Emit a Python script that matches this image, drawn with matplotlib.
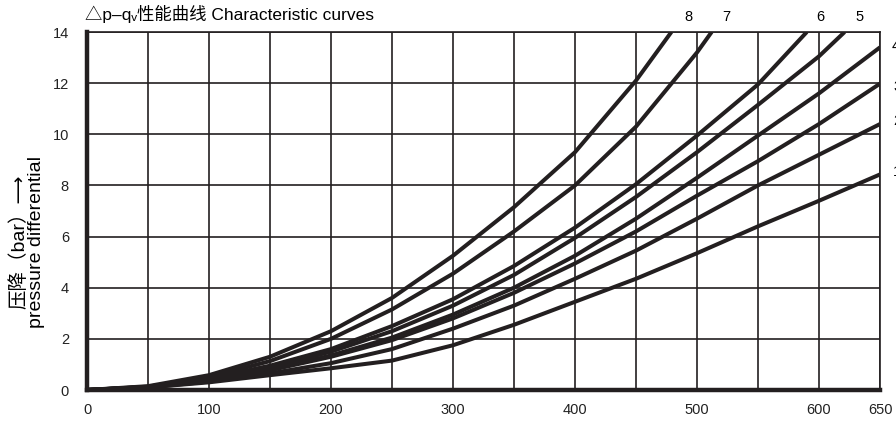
import numpy as np
import matplotlib
matplotlib.use('Agg')
from matplotlib import pyplot as plt

plt.rcParams['font.family'] = ['Liberation Sans', 'Noto Sans CJK SC', 'DejaVu Sans']

ink = '#231f20'

# flow (l/min) vs pressure drop (bar)
q_full = [0, 50, 100, 150, 200, 250, 300, 350, 400, 450, 500, 550, 600, 650]
dp_1 = [0, 0.1, 0.3, 0.58, 0.85, 1.15, 1.75, 2.55, 3.45, 4.35, 5.35, 6.4, 7.4, 8.43]
dp_2 = [0, 0.1, 0.33, 0.65, 1.05, 1.6, 2.4, 3.3, 4.35, 5.45, 6.7, 8.0, 9.2, 10.4]
dp_3 = [0, 0.11, 0.37, 0.77, 1.3, 1.95, 2.8, 3.8, 4.95, 6.2, 7.6, 8.95, 10.4, 11.98]
dp_4 = [0, 0.11, 0.38, 0.8, 1.35, 2.05, 2.95, 4.0, 5.25, 6.7, 8.3, 9.95, 11.6, 13.4]
q_5 = [0, 50, 100, 150, 200, 250, 300, 350, 400, 450, 500, 550, 600, 621]
dp_5 = [0, 0.12, 0.42, 0.88, 1.5, 2.3, 3.3, 4.5, 5.95, 7.55, 9.3, 11.15, 13.05, 14]
q_6 = [0, 50, 100, 150, 200, 250, 300, 350, 400, 450, 500, 550, 590]
dp_6 = [0, 0.12, 0.45, 0.95, 1.6, 2.5, 3.55, 4.85, 6.35, 8.05, 9.95, 11.95, 14]
q_7 = [0, 50, 100, 150, 200, 250, 300, 350, 400, 450, 500, 512]
dp_7 = [0, 0.13, 0.5, 1.13, 2.0, 3.15, 4.55, 6.2, 8.0, 10.3, 13.2, 14]
q_8 = [0, 50, 100, 150, 200, 250, 300, 350, 400, 450, 479]
dp_8 = [0, 0.15, 0.58, 1.3, 2.3, 3.6, 5.25, 7.15, 9.3, 12.1, 14]

curves = [(q_full, dp_1), (q_full, dp_2), (q_full, dp_3), (q_full, dp_4),
          (q_5, dp_5), (q_6, dp_6), (q_7, dp_7), (q_8, dp_8)]

x_labels = [0, 100, 200, 300, 400, 500, 600, 650]
y_labels = [0, 2, 4, 6, 8, 10, 12, 14]

fig = plt.figure(figsize=(8.96, 4.24), dpi=100)
ax = fig.add_axes([87 / 896, 1 - 390 / 424, (880 - 87) / 896, (390 - 32) / 424])

for q, dp in curves:
    ax.plot(q, dp, color=ink, lw=2.9, solid_joinstyle='round',
            solid_capstyle='butt', zorder=3)

ax.set_xlim(0, 650)
ax.set_ylim(0, 14)
ax.set_xticks(x_labels)
ax.set_xticks(np.arange(0, 651, 50), minor=True)
ax.set_yticks(y_labels)
ax.tick_params(which='both', length=0, labelsize=10.5, colors='#222222')
ax.tick_params(axis='x', pad=9)
ax.tick_params(axis='y', pad=13)
ax.grid(which='both', color=ink, lw=1.2, zorder=1)
for s in ['top', 'right']:
    ax.spines[s].set_linewidth(1.2)
    ax.spines[s].set_color(ink)
for s in ['left', 'bottom']:
    ax.spines[s].set_linewidth(3.2)
    ax.spines[s].set_color(ink)

# curve numbers along the top and right edge (right ones cut by the edge, as in the source)
ax.text(493, 14.58, '8', fontsize=10.5, ha='center', va='center', clip_on=False)
ax.text(524, 14.58, '7', fontsize=10.5, ha='center', va='center', clip_on=False)
ax.text(601, 14.58, '6', fontsize=10.5, ha='center', va='center', clip_on=False)
ax.text(633, 14.58, '5', fontsize=10.5, ha='center', va='center', clip_on=False)
fig.text(892 / 896, 1 - 46 / 424, '4', fontsize=10.5, va='center')
fig.text(893 / 896, 1 - 87 / 424, '3', fontsize=10.5, va='center')
fig.text(893 / 896, 1 - 121 / 424, '2', fontsize=10.5, va='center')
fig.text(893 / 896, 1 - 172 / 424, '1', fontsize=10.5, va='center')

fig.text(85 / 896, 1 - 14 / 424, '△p–qᵥ性能曲线 Characteristic curves',
         fontsize=12.5, va='center', ha='left')
fig.text(27 / 896, 1 - 242 / 424, '压降（bar）⟶\npressure differential',
         fontsize=14, rotation=90, va='center', ha='center', linespacing=0.95)

fig.savefig('out.png', dpi=100)
